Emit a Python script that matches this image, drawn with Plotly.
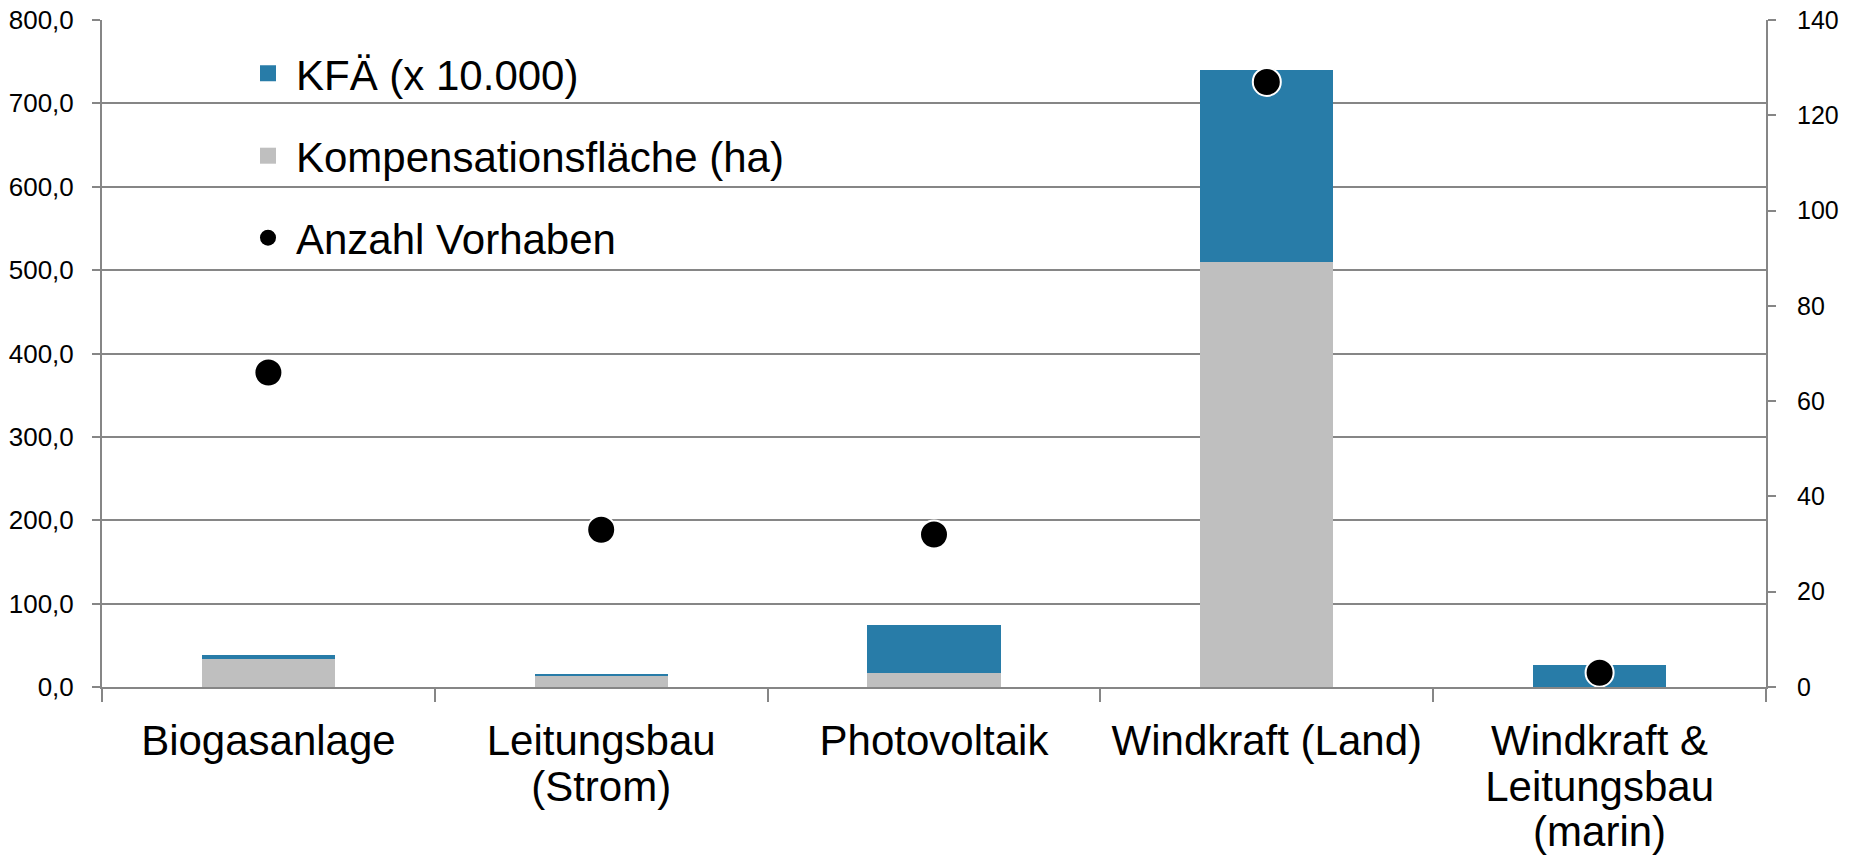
import plotly.graph_objects as go

categories = ["Biogasanlage", "Leitungsbau\n(Strom)", "Photovoltaik", "Windkraft (Land)",
              "Windkraft &\nLeitungsbau\n(marin)"]
kompensationsflaeche = [33, 13, 17, 510, 0]
kfae = [5, 3, 57, 230, 26]
anzahl_vorhaben = [66, 33, 32, 127, 3]

left_ticks = [0, 100, 200, 300, 400, 500, 600, 700, 800]
right_ticks = [0, 20, 40, 60, 80, 100, 120, 140]

BLUE = "#287CA8"
GRAY = "#BFBFBF"
AXIS = "#868686"
FONT = "Liberation Sans, Arial, sans-serif"

W, H = 1849, 861
plot_top, plot_bottom, plot_left, plot_right = 20, 687.5, 102, 1766
ph = plot_bottom - plot_top
pw = plot_right - plot_left

# tick labels: glyphs at 42px, line spacing of a 35px font (tighter, as in the reference)
tick_text = ["<br>".join("<span style='font-size:42px'>%s</span>" % line for line in c.split("\n"))
             for c in categories]

fig = go.Figure()
fig.add_trace(go.Bar(x=categories, y=kompensationsflaeche, name="Kompensationsfläche (ha)",
                     marker=dict(color=GRAY, line=dict(width=0)), showlegend=False))
fig.add_trace(go.Bar(x=categories, y=kfae, name="KFÄ (x 10.000)",
                     marker=dict(color=BLUE, line=dict(width=0)), showlegend=False))
fig.add_trace(go.Scatter(x=categories, y=anzahl_vorhaben, name="Anzahl Vorhaben", yaxis="y2",
                         mode="markers",
                         marker=dict(color="black", size=28, line=dict(color="white", width=2)),
                         showlegend=False))
# legend entries
fig.add_trace(go.Scatter(x=[None], y=[None], mode="markers", name="KFÄ (x 10.000)",
                         marker=dict(symbol="square", color=BLUE, size=22), legend="legend"))
fig.add_trace(go.Scatter(x=[None], y=[None], mode="markers", name="Kompensationsfläche (ha)",
                         marker=dict(symbol="square", color=GRAY, size=22), legend="legend2"))
fig.add_trace(go.Scatter(x=[None], y=[None], mode="markers", name="Anzahl Vorhaben",
                         marker=dict(symbol="circle", color="black", size=22,
                                     line=dict(width=0)), legend="legend3"))


def ly(center_px):
    return (plot_bottom - center_px) / ph


legend_left_px = 240
legend_x = (legend_left_px - plot_left) / pw
leg_common = dict(xanchor="left", yanchor="middle", x=legend_x, bgcolor="rgba(0,0,0,0)",
                  font=dict(family=FONT, size=42, color="black"), borderwidth=0,
                  itemwidth=46)

fig.update_layout(
    width=W, height=H,
    margin=dict(l=plot_left, r=W - plot_right, t=plot_top, b=H - plot_bottom, pad=0),
    paper_bgcolor="white", plot_bgcolor="white",
    barmode="stack", bargap=0.6,
    separators=",.",
    font=dict(family=FONT, color="black"),
    legend=dict(y=ly(73.5), **leg_common),
    legend2=dict(y=ly(156), **leg_common),
    legend3=dict(y=ly(238), **leg_common),
    xaxis=dict(type="category", showline=True, linecolor=AXIS, linewidth=2,
               tickmode="array", tickvals=categories, ticktext=tick_text, tickangle=0,
               ticks="outside", tickson="boundaries", ticklen=13, tickcolor=AXIS, tickwidth=1.5,
               tickfont=dict(family=FONT, size=35, color="black"), showgrid=False,
               automargin=False, ticklabelstandoff=24, ticklabeloverflow="allow"),
    yaxis=dict(range=[0, 800], tickvals=left_ticks, tickformat=".1f", showline=True,
               linecolor=AXIS, linewidth=2, ticks="outside", ticklen=8, tickcolor=AXIS,
               tickwidth=1.5, showgrid=True, gridcolor=AXIS, gridwidth=1.5, zeroline=False,
               tickfont=dict(family=FONT, size=26, color="black"), ticklabelstandoff=13,
               automargin=False, ticklabeloverflow="allow"),
    yaxis2=dict(range=[0, 140], tickvals=right_ticks, overlaying="y", side="right",
                showline=True, linecolor=AXIS, linewidth=2, ticks="outside", ticklen=8,
                tickcolor=AXIS, tickwidth=1.5, showgrid=False, zeroline=False,
                tickfont=dict(family=FONT, size=25, color="black"), ticklabelstandoff=16,
                automargin=False, ticklabeloverflow="allow"),
)

fig.write_html("out.html", config={"displayModeBar": False},
               post_script="document.body.style.margin='0';document.body.style.overflow='hidden';")
